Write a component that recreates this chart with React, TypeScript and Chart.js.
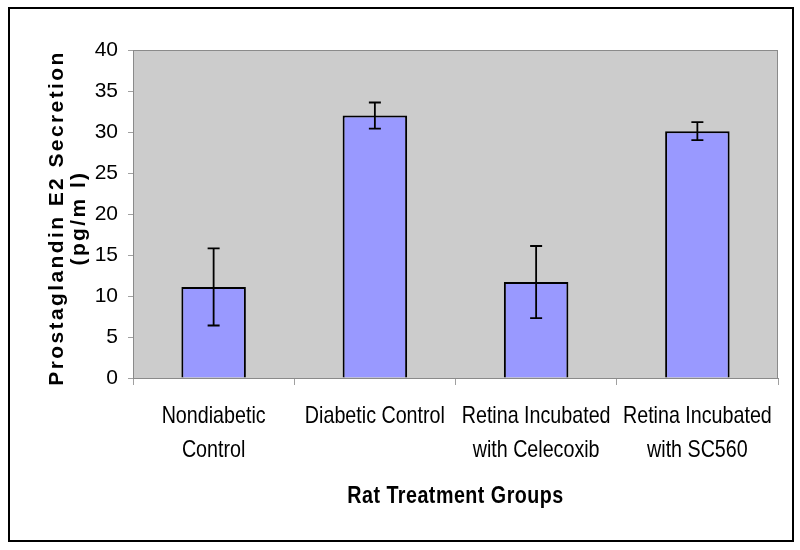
import React, { useEffect, useRef } from "react";
import { Chart, registerables } from "chart.js";

Chart.register(...registerables);

const categories: string[][] = [
  ["Nondiabetic", "Control"],
  ["Diabetic Control"],
  ["Retina Incubated", "with Celecoxib"],
  ["Retina Incubated", "with SC560"],
];
const means: number[] = [11.1, 32.0, 11.7, 30.1];
const errors: number[] = [4.7, 1.6, 4.4, 1.1];
const yTitleLines: string[] = ["Prostaglandin E2 Secretion", "(pg/m l)"];
const xTitle = "Rat Treatment Groups";

const SANS = "'Liberation Sans', Arial, sans-serif";
const SQUEEZE = 0.82;

const decorPlugin = {
  id: "decor",
  beforeDraw(chart: any) {
    const { ctx, chartArea } = chart;
    ctx.save();
    ctx.fillStyle = "#ffffff";
    ctx.fillRect(0, 0, chart.width, chart.height);
    ctx.fillStyle = "#cccccc";
    ctx.fillRect(chartArea.left, chartArea.top, chartArea.right - chartArea.left, chartArea.bottom - chartArea.top);
    ctx.restore();
  },
  afterDraw(chart: any) {
    const { ctx, chartArea } = chart;
    const xScale = chart.scales.x;
    ctx.save();
    ctx.strokeStyle = "#8a8a8a";
    ctx.lineWidth = 1;
    ctx.strokeRect(chartArea.left + 0.5, chartArea.top + 0.5, chartArea.right - chartArea.left - 1, chartArea.bottom - chartArea.top);
    // outer frame
    ctx.strokeStyle = "#000000";
    ctx.lineWidth = 2;
    ctx.strokeRect(9, 8, 784, 533);
    ctx.fillStyle = "#000000";
    ctx.textAlign = "center";
    ctx.textBaseline = "alphabetic";
    // x category labels (narrow)
    ctx.font = `24px ${SANS}`;
    const baselines = [423, 457];
    categories.forEach((lines, i) => {
      const x = xScale.getPixelForValue(i);
      lines.forEach((line, j) => {
        ctx.save();
        ctx.translate(x, baselines[j]);
        ctx.scale(SQUEEZE, 1);
        ctx.fillText(line, 0, 0);
        ctx.restore();
      });
    });
    // x title
    ctx.font = `bold 24px ${SANS}`;
    (ctx as any).letterSpacing = "0.6px";
    ctx.save();
    ctx.translate((chartArea.left + chartArea.right) / 2, 503);
    ctx.scale(SQUEEZE, 1);
    ctx.fillText(xTitle, 0, 0);
    ctx.restore();
    // y title
    ctx.font = `bold 21px ${SANS}`;
    (ctx as any).letterSpacing = "2.4px";
    const cy = (chartArea.top + chartArea.bottom) / 2 + 4;
    const baseXs = [63, 85];
    yTitleLines.forEach((line, i) => {
      ctx.save();
      ctx.translate(baseXs[i], cy);
      ctx.rotate(-Math.PI / 2);
      ctx.fillText(line, 0, 0);
      ctx.restore();
    });
    ctx.restore();
  },
};

const errorBarPlugin = {
  id: "errorBars",
  afterDatasetsDraw(chart: any) {
    const { ctx } = chart;
    const meta = chart.getDatasetMeta(0);
    const yScale = chart.scales.y;
    ctx.save();
    ctx.strokeStyle = "#000000";
    ctx.lineWidth = 1.8;
    meta.data.forEach((bar: any, i: number) => {
      const x = bar.x;
      const yTop = yScale.getPixelForValue(means[i] + errors[i]);
      const yBot = yScale.getPixelForValue(means[i] - errors[i]);
      const cap = 6;
      ctx.beginPath();
      ctx.moveTo(x, yTop);
      ctx.lineTo(x, yBot);
      ctx.moveTo(x - cap, yTop);
      ctx.lineTo(x + cap, yTop);
      ctx.moveTo(x - cap, yBot);
      ctx.lineTo(x + cap, yBot);
      ctx.stroke();
    });
    ctx.restore();
  },
};

export default function App() {
  const ref = useRef<HTMLCanvasElement | null>(null);
  useEffect(() => {
    if (!ref.current) return;
    const chart = new Chart(ref.current, {
      type: "bar",
      data: {
        labels: categories as any,
        datasets: [
          {
            data: means,
            backgroundColor: "#9999ff",
            borderColor: "#000000",
            borderWidth: 2,
            barPercentage: 0.5,
            categoryPercentage: 0.8,
          },
        ],
      },
      options: {
        responsive: false,
        animation: false,
        devicePixelRatio: 1,
        layout: { padding: { left: 0, top: 50, right: 22, bottom: 0 } },
        plugins: { legend: { display: false }, tooltip: { enabled: false } },
        scales: {
          x: {
            afterFit: (s: any) => {
              s.height = 172;
            },
            grid: { drawOnChartArea: false, drawTicks: true, tickLength: 7, color: "#a0a0a0", offset: true },
            border: { display: true, color: "#8a8a8a" },
            ticks: { display: false, maxRotation: 0, autoSkip: false },
          },
          y: {
            min: 0,
            max: 40,
            afterFit: (s: any) => {
              s.width = 133;
            },
            grid: { drawOnChartArea: false, drawTicks: true, tickLength: 5, color: "#a0a0a0" },
            border: { display: true, color: "#8a8a8a" },
            ticks: {
              stepSize: 5,
              color: "#000000",
              font: { family: SANS, size: 21 },
              padding: 10,
            },
          },
        },
      },
      plugins: [decorPlugin, errorBarPlugin],
    });
    return () => chart.destroy();
  }, []);
  return (
    <div style={{ position: "fixed", left: 0, top: 0, width: 800, height: 550 }}>
      <canvas ref={ref} width={800} height={550} style={{ display: "block" }} />
    </div>
  );
}
